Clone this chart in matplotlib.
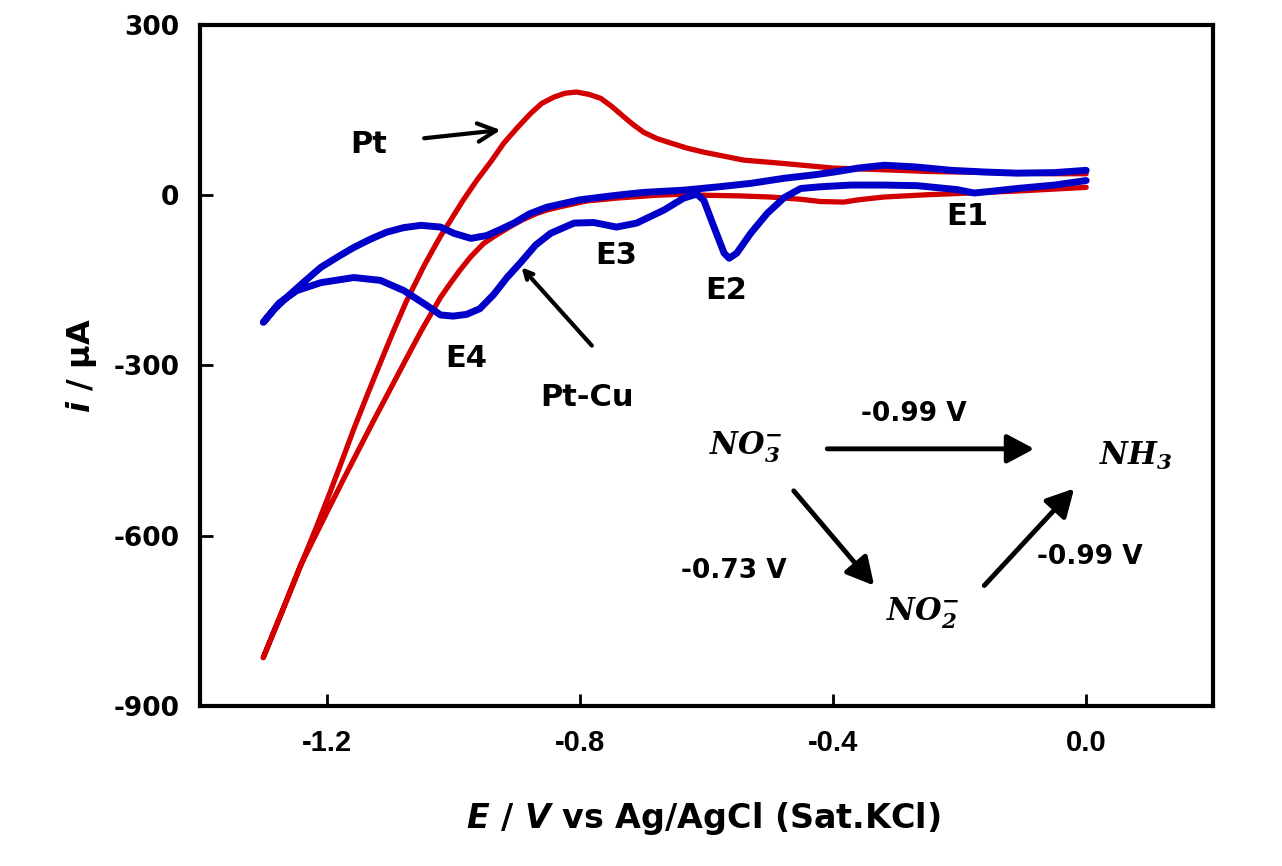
import matplotlib
matplotlib.use("Agg")
import matplotlib.pyplot as plt

# Pt: cathodic sweep (0 -> -1.3 V) then anodic sweep back (-1.3 -> 0 V)
pt_e_cat = [0.0, -0.05, -0.10, -0.161, -0.25, -0.319, -0.36, -0.383, -0.42, -0.451,
            -0.50, -0.55, -0.60, -0.636, -0.68, -0.742, -0.789, -0.83, -0.852, -0.868,
            -0.89, -0.905, -0.920, -0.936, -0.952, -0.972, -0.99, -1.005, -1.020, -1.05,
            -1.074, -1.10, -1.126, -1.15, -1.173, -1.20, -1.22, -1.241, -1.27, -1.30]
pt_i_cat = [14, 11, 8, 5, 1, -3, -8, -12, -11, -7,
            -3, -1, 0, 2, 0, -5, -10, -20, -26, -32,
            -43, -52, -62, -73, -85, -108, -133, -156, -180, -238,
            -288, -343, -398, -450, -500, -560, -605, -652, -733, -815]
pt_e_an = [-1.30, -1.27, -1.241, -1.215, -1.194, -1.175, -1.157, -1.135, -1.115, -1.095,
           -1.074, -1.045, -1.020, -1.004, -0.985, -0.963, -0.94, -0.920, -0.898, -0.877,
           -0.86, -0.841, -0.823, -0.805, -0.786, -0.767, -0.75, -0.730, -0.715, -0.699,
           -0.678, -0.656, -0.63, -0.604, -0.541, -0.477, -0.40, -0.32, -0.25, -0.15,
           -0.05, 0.0]
pt_i_an = [-815, -733, -653, -582, -522, -466, -412, -350, -295, -241,
           -187, -122, -72, -44, -10, 26, 60, 92, 120, 145,
           162, 173, 180, 182, 178, 171, 157, 138, 124, 111,
           100, 92, 83, 76, 62, 56, 48, 45, 42, 40,
           38, 38]

# Pt-Cu
ptcu_e_cat = [0.0, -0.05, -0.109, -0.15, -0.177, -0.204, -0.267, -0.32, -0.372, -0.42,
              -0.451, -0.477, -0.504, -0.530, -0.552, -0.564, -0.572, -0.588, -0.604, -0.615,
              -0.636, -0.667, -0.710, -0.742, -0.778, -0.809, -0.846, -0.870, -0.893, -0.915,
              -0.936, -0.958, -0.979, -1.0, -1.020, -1.042, -1.078, -1.115, -1.157, -1.209,
              -1.247, -1.275, -1.30]
ptcu_i_cat = [26, 18, 12, 7, 4, 10, 17, 18, 18, 15,
              12, -4, -32, -67, -102, -111, -102, -56, -9, 2,
              -5, -26, -49, -56, -48, -49, -67, -88, -118, -145,
              -175, -200, -210, -213, -211, -194, -168, -150, -145, -154,
              -168, -190, -224]
ptcu_e_an = [-1.30, -1.282, -1.263, -1.235, -1.209, -1.18, -1.157, -1.13, -1.105, -1.078,
             -1.051, -1.020, -0.999, -0.972, -0.947, -0.925, -0.904, -0.88, -0.852, -0.80,
             -0.742, -0.70, -0.636, -0.58, -0.53, -0.477, -0.43, -0.398, -0.36, -0.319,
             -0.27, -0.213, -0.16, -0.109, -0.05, 0.0]
ptcu_i_an = [-224, -200, -180, -152, -127, -107, -92, -77, -65, -57,
             -53, -56, -67, -76, -71, -60, -49, -33, -21, -8,
             0, 5, 9, 15, 21, 30, 36, 41, 48, 53,
             50, 44, 41, 39, 40, 44]

x_ticks = [-1.2, -0.8, -0.4, 0.0]
y_ticks = [300, 0, -300, -600, -900]

plt.rcParams['font.family'] = ['DejaVu Sans']
plt.rcParams['mathtext.fontset'] = 'custom'
plt.rcParams['mathtext.it'] = 'DejaVu Sans:italic:bold'
plt.rcParams['mathtext.rm'] = 'DejaVu Sans:bold'
plt.rcParams['mathtext.sf'] = 'DejaVu Serif:italic:bold'

fig = plt.figure(figsize=(12.82, 8.66), dpi=100)
ax = fig.add_axes([0.156, 0.185, 0.790, 0.786])

ax.plot(pt_e_cat + pt_e_an, pt_i_cat + pt_i_an, color='#d20000', lw=3.8,
        solid_joinstyle='round', solid_capstyle='round')
ax.plot(ptcu_e_cat + ptcu_e_an, ptcu_i_cat + ptcu_i_an, color='#0000c8', lw=5.0,
        solid_joinstyle='round', solid_capstyle='round')

ax.set_xlim(-1.4, 0.2)
ax.set_ylim(-900, 300)
ax.set_xticks(x_ticks)
ax.set_xticklabels(['%.1f' % v for v in x_ticks], fontsize=21, fontweight='bold',
                   family='Liberation Sans')
ax.set_yticks(y_ticks)
ax.set_yticklabels([str(v) for v in y_ticks], fontsize=19, fontweight='bold')
ax.tick_params(direction='in', length=9, width=2)
ax.tick_params(axis='x', pad=17)
ax.tick_params(axis='y', pad=15)
for s in ax.spines.values():
    s.set_linewidth(3)

ax.set_xlabel(r'$E$ / $V$ vs Ag/AgCl (Sat.KCl)', fontsize=24, fontweight='bold')
ax.xaxis.set_label_coords(0.497, -0.138)
ax.set_ylabel(r'$i$ / µA', fontsize=23, fontweight='bold')
ax.yaxis.set_label_coords(-0.10, 0.5)

lab_kw = dict(fontsize=22, fontweight='bold', ha='center', va='center')
ax.annotate('Pt', xy=(-0.925, 115), xytext=(-1.134, 90),
            arrowprops=dict(arrowstyle='->,head_length=0.6,head_width=0.3', lw=3,
                            color='black', shrinkA=25, shrinkB=0), **lab_kw)
ax.annotate('', xy=(-0.892, -127), xytext=(-0.781, -265),
            arrowprops=dict(arrowstyle='->,head_length=0.6,head_width=0.3', lw=3,
                            color='black', shrinkA=0, shrinkB=0))
ax.text(-0.789, -356, 'Pt-Cu', **lab_kw)
ax.text(-0.188, -38, 'E1', **lab_kw)
ax.text(-0.569, -168, 'E2', **lab_kw)
ax.text(-0.743, -106, 'E3', **lab_kw)
ax.text(-0.979, -288, 'E4', **lab_kw)

# reaction scheme
chem_kw = dict(fontsize=22, ha='center', va='center')
ax.text(-0.538, -445, r'$\mathsf{NO}_{\mathsf{3}}^{\mathsf{-}}$', **chem_kw)
ax.text(0.079, -459, r'$\mathsf{NH}_{\mathsf{3}}$', **chem_kw)
ax.text(-0.259, -736, r'$\mathsf{NO}_{\mathsf{2}}^{\mathsf{-}}$', **chem_kw)

v_kw = dict(fontsize=19, fontweight='bold', ha='center', va='center')
ax.text(-0.272, -385, '-0.99 V', **v_kw)
ax.text(-0.557, -662, '-0.73 V', **v_kw)
ax.text(0.006, -637, '-0.99 V', **v_kw)

arr = dict(arrowstyle='-|>,head_length=0.75,head_width=0.4', lw=3.5, color='black',
           mutation_scale=22, shrinkA=0, shrinkB=0)
ax.annotate('', xy=(-0.082, -447), xytext=(-0.409, -447), arrowprops=arr)
ax.annotate('', xy=(-0.335, -688), xytext=(-0.462, -521), arrowprops=arr)
ax.annotate('', xy=(-0.019, -517), xytext=(-0.161, -688), arrowprops=arr)

fig.savefig('out.png', dpi=100)
